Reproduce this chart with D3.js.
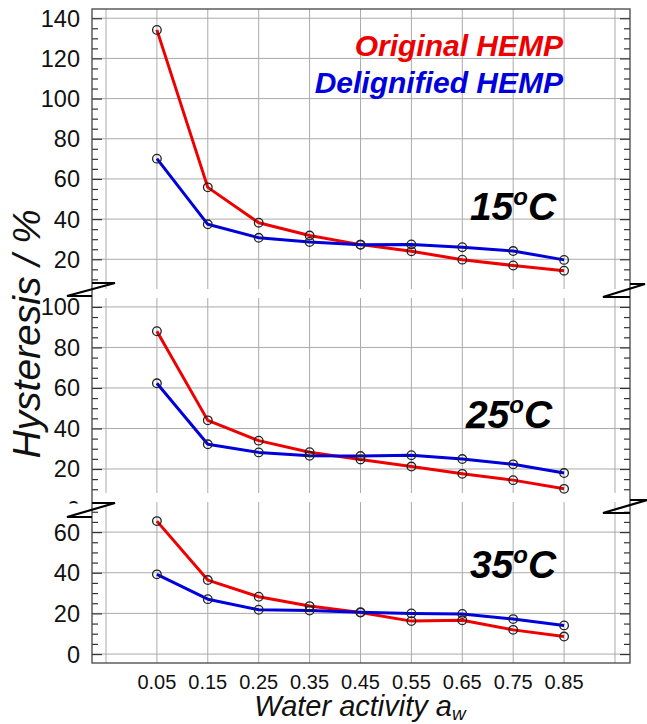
<!DOCTYPE html>
<html><head><meta charset="utf-8">
<script src="https://cdn.jsdelivr.net/npm/d3@7"></script>
<style>body{margin:0;background:#fff}svg{display:block}</style>
</head><body>
<svg id="chart" width="647" height="724"></svg>
<script>
// ---------------- data ----------------
const waterActivity = [0.05, 0.15, 0.25, 0.35, 0.45, 0.55, 0.65, 0.75, 0.85];
const xTickLabels = ["0.05","0.15","0.25","0.35","0.45","0.55","0.65","0.75","0.85"];
const gridX = [-0.05, 0.05, 0.15, 0.25, 0.35, 0.45, 0.55, 0.65, 0.75, 0.85, 0.95];

const original15    = [134.2, 55.8, 38.2, 31.8, 27.3, 24.0, 19.8, 16.9, 14.3];
const delignified15 = [70.1, 37.4, 30.7, 28.6, 27.2, 27.4, 26.0, 24.1, 19.7];
const original25    = [88.0, 44.0, 34.0, 28.3, 24.7, 21.2, 17.6, 14.5, 10.2];
const delignified25 = [62.3, 32.2, 28.2, 26.5, 26.4, 26.8, 24.9, 22.3, 18.0];
const original35    = [65.4, 36.4, 28.2, 23.6, 20.4, 16.2, 16.6, 11.9, 8.6];
const delignified35 = [39.2, 27.0, 21.8, 21.4, 20.6, 20.0, 19.7, 17.2, 14.1];

const temperatures = ["15", "25", "35"];
const seriesNames = ["Original HEMP", "Delignified HEMP"];
const panelDomains = [[5.2, 144.6], [8.15, 104.4], [-4.4, 74.8]];
const panelMajorTicks = [[20, 40, 60, 80, 100, 120, 140], [0, 20, 40, 60, 80, 100], [0, 20, 40, 60]];
const xTitle = "Water activity a";
const xTitleSub = "w";
const yTitle = "Hysteresis / %";

// ---------------- layout ----------------
const svg = d3.select("#chart");
const L = 92, R = 630, T = 9, B = 663;
const panelRanges = [[289, 9], [493, 298], [663, 502]];
const red = "#ee0000", blue = "#0000dd";
const FONT = "'Liberation Sans', Arial, sans-serif";

const x = d3.scaleLinear().domain([-0.0775, 0.9795]).range([L, R]);

const panels = [
  {orig: original15, del: delignified15},
  {orig: original25, del: delignified25},
  {orig: original35, del: delignified35}
];

const defs = svg.append("defs");
defs.append("clipPath").attr("id", "labclip1").append("rect")
  .attr("x", 0).attr("y", 290).attr("width", 92).attr("height", 213.5);

panels.forEach((p, i) => {
  const y = d3.scaleLinear().domain(panelDomains[i]).range(panelRanges[i]);
  p.y = y;
  const g = svg.append("g");
  const [y0, y1] = panelRanges[i];
  g.selectAll(".vg").data(gridX).join("line")
    .attr("x1", d => x(d)).attr("x2", d => x(d))
    .attr("y1", y1).attr("y2", y0)
    .attr("stroke", "#aaaaaa").attr("stroke-width", 1);
  const dom = panelDomains[i];
  const majors = panelMajorTicks[i].filter(v => v >= dom[0] && v <= dom[1]);
  g.selectAll(".hg").data(majors).join("line")
    .attr("x1", L).attr("x2", R)
    .attr("y1", d => y(d)).attr("y2", d => y(d))
    .attr("stroke", "#aaaaaa").attr("stroke-width", 1);
  const minors = d3.range(Math.ceil(dom[0] / 5) * 5, dom[1] + 0.001, 5).filter(v => v % 20 !== 0);
  [L, R].forEach(xx => {
    const mk = () => (xx === L ? d3.axisRight(y) : d3.axisLeft(y));
    const a1 = svg.append("g").attr("transform", `translate(${xx},0)`)
      .call(mk().tickValues(minors).tickSize(6).tickFormat(""));
    a1.select(".domain").remove();
    a1.selectAll("line").attr("stroke", "#333").attr("stroke-width", 1.2);
    const a2 = svg.append("g").attr("transform", `translate(${xx},0)`)
      .call(mk().tickValues(majors).tickSize(10).tickFormat(""));
    a2.select(".domain").remove();
    a2.selectAll("line").attr("stroke", "#333").attr("stroke-width", 1.2);
  });
  const labG = svg.append("g");
  if (i === 1) labG.attr("clip-path", "url(#labclip1)");
  labG.selectAll("text").data(panelMajorTicks[i]).join("text")
    .attr("x", 80).attr("y", d => y(d))
    .attr("dy", "0.36em")
    .attr("text-anchor", "end")
    .attr("font-family", FONT).attr("font-size", 23.5).attr("fill", "#111")
    .text(d => d);
});

svg.append("rect").attr("x", L).attr("y", T).attr("width", R - L).attr("height", B - T)
  .attr("fill", "none").attr("stroke", "#444").attr("stroke-width", 1.3);

const line = (y) => d3.line().x((d, j) => x(waterActivity[j])).y(d => y(d));
panels.forEach((p, i) => {
  [[p.orig, red], [p.del, blue]].forEach(([vals, col]) => {
    svg.append("path").datum(vals).attr("d", line(p.y))
      .attr("fill", "none").attr("stroke", col).attr("stroke-width", 3)
      .attr("stroke-linejoin", "round");
  });
  [[p.orig, red], [p.del, blue]].forEach(([vals, col]) => {
    svg.append("g").selectAll("circle").data(vals).join("circle")
      .attr("cx", (d, j) => x(waterActivity[j])).attr("cy", d => p.y(d))
      .attr("r", 4.3).attr("fill", "none").attr("stroke", "#222").attr("stroke-width", 1.3);
  });
});

const tempPos = [[513, 220], [509, 428], [513, 578]];
temperatures.forEach((t, i) => {
  const tx = svg.append("text").attr("x", tempPos[i][0]).attr("y", tempPos[i][1])
    .attr("text-anchor", "middle")
    .attr("font-family", FONT).attr("font-size", 39).attr("font-weight", "bold")
    .attr("font-style", "italic").attr("fill", "#000");
  tx.append("tspan").text(t);
  tx.append("tspan").attr("font-size", 24).attr("dy", -15).text("o");
  tx.append("tspan").attr("dy", 15).text("C");
});

[[seriesNames[0], red, 56], [seriesNames[1], blue, 93]].forEach(([s, c, yy]) => {
  svg.append("text").attr("x", 563).attr("y", yy).attr("text-anchor", "end")
    .attr("font-family", FONT).attr("font-size", 30).attr("font-weight", "bold")
    .attr("font-style", "italic").attr("fill", c).text(s);
});

svg.append("g").selectAll("text").data(waterActivity).join("text")
  .attr("x", d => x(d)).attr("y", 689)
  .attr("text-anchor", "middle")
  .attr("font-family", FONT).attr("font-size", 20).attr("fill", "#111")
  .text((d, j) => xTickLabels[j]);

const xt = svg.append("text").attr("x", 360).attr("y", 716).attr("text-anchor", "middle")
  .attr("font-family", FONT).attr("font-size", 29).attr("font-style", "italic").attr("fill", "#111");
xt.append("tspan").text(xTitle);
xt.append("tspan").attr("font-size", 19).attr("dy", 4).text(xTitleSub);

svg.append("text").attr("transform", "translate(40,334) rotate(-90)")
  .attr("text-anchor", "middle")
  .attr("font-family", FONT).attr("font-size", 39).attr("font-style", "italic").attr("fill", "#111")
  .text(yTitle);

const breaks = [
  [[92, 283], [115, 283], [67, 296], [92, 296]],
  [[92, 503], [115, 503], [67, 517], [92, 517]],
  [[630, 284], [645, 284], [603, 297], [630, 297]],
  [[630, 500], [647, 500], [603, 513], [630, 513]]
];
breaks.forEach(pts => {
  svg.append("path").attr("d", d3.line()(pts))
    .attr("fill", "none").attr("stroke", "#000").attr("stroke-width", 2.2)
    .attr("stroke-linejoin", "miter");
});
</script>
</body></html>
